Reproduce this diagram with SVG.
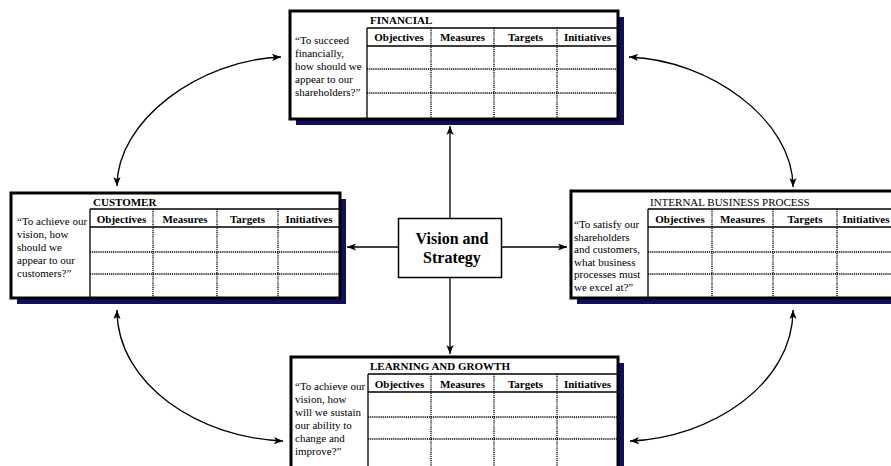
<svg xmlns="http://www.w3.org/2000/svg" width="891" height="466" viewBox="0 0 891 466">
  <style>
    .shadow { fill: #0f0f5c; }
    .frame { fill: #ffffff; stroke: #000000; stroke-width: 3; }
    .rule { fill: none; stroke: #000000; stroke-width: 1.3; }
    .dot { fill: none; stroke: #000000; stroke-width: 1.3; stroke-dasharray: 1.2 0.9; }
    .title { font-family: "Liberation Serif", "Times New Roman", serif; font-size: 11px; font-weight: bold; fill: #000; }
    .title-plain { font-family: "Liberation Serif", "Times New Roman", serif; font-size: 11px; fill: #000; }
    .head { font-family: "Liberation Serif", "Times New Roman", serif; font-size: 11px; font-weight: bold; text-anchor: middle; fill: #000; }
    .q { font-family: "Liberation Serif", "Times New Roman", serif; font-size: 11px; fill: #000; }
    .core { fill: #ffffff; stroke: #000000; stroke-width: 1.5; }
    .core-text { font-family: "Liberation Serif", "Times New Roman", serif; font-size: 16px; font-weight: bold; text-anchor: middle; fill: #000; }
    .link { fill: none; stroke: #000000; stroke-width: 1.3; }
  </style>
  <defs>
    <marker id="head" viewBox="0 0 10 8" refX="10" refY="4" markerWidth="9" markerHeight="7.2" markerUnits="userSpaceOnUse" orient="auto-start-reverse">
      <path d="M0,0 L10,4 L0,8 L2.5,4 Z" fill="#000"/>
    </marker>
  </defs>

  <rect width="891" height="466" fill="#ffffff"/>

  <!-- Financial perspective -->
  <g id="financial">
    <rect class="shadow" x="296" y="17" width="328" height="108"/>
    <rect class="frame" x="290" y="11" width="328" height="108"/>
    <text class="title" x="370" y="24">FINANCIAL</text>
    <path class="rule" d="M367,28 H618 M367,46 H618 M367,28 V119"/>
    <path class="dot" d="M367,69 H618 M367,93 H618 M431,28 V119 M494,28 V119 M557,28 V119"/>
    <text class="head" x="399" y="41">Objectives</text>
    <text class="head" x="462.5" y="41">Measures</text>
    <text class="head" x="525.5" y="41">Targets</text>
    <text class="head" x="587.5" y="41">Initiatives</text>
    <text class="q" x="295" y="44">“To succeed</text>
    <text class="q" x="295" y="57">financially,</text>
    <text class="q" x="295" y="70">how should we</text>
    <text class="q" x="295" y="83">appear to our</text>
    <text class="q" x="295" y="96">shareholders?”</text>
  </g>

  <!-- Customer perspective -->
  <g id="customer">
    <rect class="shadow" x="17" y="199" width="329" height="105"/>
    <rect class="frame" x="11" y="193" width="329" height="105"/>
    <text class="title" x="93" y="206">CUSTOMER</text>
    <path class="rule" d="M90,209 H340 M90,227 H340 M90,209 V298"/>
    <path class="dot" d="M90,252 H340 M90,274 H340 M153,209 V298 M217,209 V298 M278,209 V298"/>
    <text class="head" x="121.5" y="223">Objectives</text>
    <text class="head" x="185" y="223">Measures</text>
    <text class="head" x="247.5" y="223">Targets</text>
    <text class="head" x="309" y="223">Initiatives</text>
    <text class="q" x="17" y="224.5">“To achieve our</text>
    <text class="q" x="17" y="237.5">vision, how</text>
    <text class="q" x="17" y="250.5">should we</text>
    <text class="q" x="17" y="263.5">appear to our</text>
    <text class="q" x="17" y="276.5">customers?”</text>
  </g>

  <!-- Internal business process perspective -->
  <g id="internal-business-process">
    <rect class="shadow" x="577" y="197" width="330" height="107"/>
    <rect class="frame" x="571" y="191" width="330" height="107"/>
    <text class="title-plain" x="650" y="206">INTERNAL BUSINESS PROCESS</text>
    <path class="rule" d="M648,209 H901 M648,227 H901 M648,209 V298"/>
    <path class="dot" d="M648,252 H901 M648,274 H901 M712,209 V298 M773,209 V298 M837,209 V298"/>
    <text class="head" x="680" y="223">Objectives</text>
    <text class="head" x="742.5" y="223">Measures</text>
    <text class="head" x="805" y="223">Targets</text>
    <text class="head" x="866" y="223">Initiatives</text>
    <text class="q" x="574" y="228">“To satisfy our</text>
    <text class="q" x="574" y="240.5">shareholders</text>
    <text class="q" x="574" y="253">and customers,</text>
    <text class="q" x="574" y="265.5">what business</text>
    <text class="q" x="574" y="278">processes must</text>
    <text class="q" x="574" y="290.5">we excel at?”</text>
  </g>

  <!-- Learning and growth perspective -->
  <g id="learning-and-growth">
    <rect class="shadow" x="297" y="363" width="327" height="115"/>
    <rect class="frame" x="291" y="357" width="327" height="115"/>
    <text class="title" x="370" y="370">LEARNING AND GROWTH</text>
    <path class="rule" d="M368,374 H618 M368,392 H618 M368,374 V472"/>
    <path class="dot" d="M368,417 H618 M368,439 H618 M431,374 V472 M494,374 V472 M557,374 V472"/>
    <text class="head" x="399.5" y="388">Objectives</text>
    <text class="head" x="462.5" y="388">Measures</text>
    <text class="head" x="525.5" y="388">Targets</text>
    <text class="head" x="587.5" y="388">Initiatives</text>
    <text class="q" x="295" y="389.5">“To achieve our</text>
    <text class="q" x="295" y="402.5">vision, how</text>
    <text class="q" x="295" y="415.5">will we sustain</text>
    <text class="q" x="295" y="428.5">our ability to</text>
    <text class="q" x="295" y="441.5">change and</text>
    <text class="q" x="295" y="454.5">improve?”</text>
  </g>

  <!-- Central vision and strategy -->
  <g id="vision-and-strategy">
    <rect class="core" x="398.5" y="218.5" width="103" height="59"/>
    <text class="core-text" x="452" y="243.5">Vision and</text>
    <text class="core-text" x="452" y="263">Strategy</text>
  </g>

  <!-- Connectors -->
  <g id="connectors">
    <path class="link" d="M450,218 V126" marker-end="url(#head)"/>
    <path class="link" d="M450,278 V354" marker-end="url(#head)"/>
    <path class="link" d="M398,247 H347" marker-end="url(#head)"/>
    <path class="link" d="M502,247 H567" marker-end="url(#head)"/>
    <path class="link" d="M117,186 C117,120 200,60 281,57" marker-start="url(#head)" marker-end="url(#head)"/>
    <path class="link" d="M629,57 C710,60 793,120 793,187" marker-start="url(#head)" marker-end="url(#head)"/>
    <path class="link" d="M117,310 C117,385 200,438 283,441" marker-start="url(#head)" marker-end="url(#head)"/>
    <path class="link" d="M793,310 C793,385 710,438 630,441" marker-start="url(#head)" marker-end="url(#head)"/>
  </g>
</svg>
